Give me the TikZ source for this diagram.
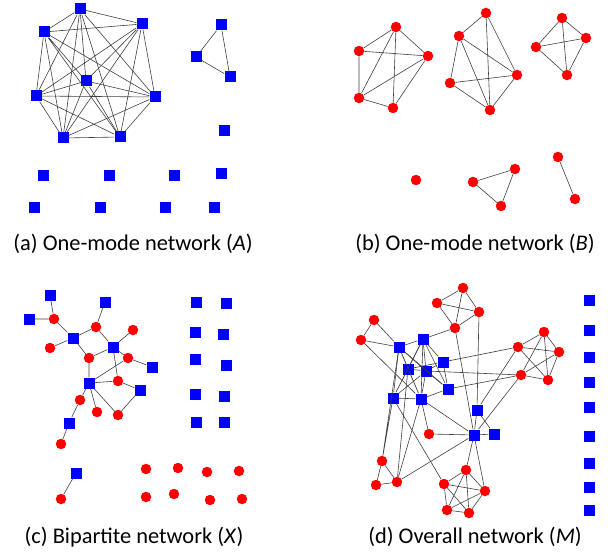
\documentclass[tikz,border=0pt]{standalone}
\usepackage{fontspec}
\setmainfont{Carlito}
\usetikzlibrary{positioning}

\begin{document}
\begin{tikzpicture}[x=1pt,y=-1pt,{sqnode/.style={rectangle,fill=blue,inner sep=0pt,minimum size=11pt}},{rdnode/.style={circle,fill=red,inner sep=0pt,minimum size=10.5pt}},{linest/.style={color=black!75,line width=0.6pt}},{capt/.style={anchor=base,font=\fontsize{22.4}{26}\selectfont}}]
		\useasboundingbox (0,0) rectangle (608,556);
		%%(a) one-mode network A
		\node at (80,9) [sqnode] (a1) {};
		\node at (142,24) [sqnode] (a2) {};
		\node at (44,32) [sqnode] (a3) {};
		\node at (86,81) [sqnode] (a4) {};
		\node at (36,96) [sqnode] (a5) {};
		\node at (155,97) [sqnode] (a6) {};
		\node at (63,138) [sqnode] (a7) {};
		\node at (120,137) [sqnode] (a8) {};
		\node at (221,25) [sqnode] (a9) {};
		\node at (196,57) [sqnode] (a10) {};
		\node at (230,77) [sqnode] (a11) {};
		\node at (224,131) [sqnode] (a12) {};
		\node at (43,176) [sqnode] (a13) {};
		\node at (109,176) [sqnode] (a14) {};
		\node at (174,176) [sqnode] (a15) {};
		\node at (221,174) [sqnode] (a16) {};
		\node at (34,208) [sqnode] (a17) {};
		\node at (100,208) [sqnode] (a18) {};
		\node at (165,208) [sqnode] (a19) {};
		\node at (214,208) [sqnode] (a20) {};
		\draw [linest] (a1) -- (a2) (a1) -- (a3) (a1) -- (a4) (a1) -- (a5) (a1) -- (a6) (a1) -- (a7) (a1) -- (a8);
		\draw [linest] (a2) -- (a3) (a2) -- (a4) (a2) -- (a5) (a2) -- (a6) (a2) -- (a7) (a2) -- (a8);
		\draw [linest] (a3) -- (a4) (a3) -- (a5) (a3) -- (a6) (a3) -- (a7) (a3) -- (a8);
		\draw [linest] (a4) -- (a5) (a4) -- (a6) (a4) -- (a7) (a4) -- (a8);
		\draw [linest] (a5) -- (a6) (a5) -- (a7) (a5) -- (a8) (a6) -- (a7) (a6) -- (a8) (a7) -- (a8);
		\draw [linest] (a9) -- (a10) -- (a11) -- (a9);
		\node at (133,251) [capt] (capa) {(a) One-mode network (\textit{A})};

		%%(b) one-mode network B
		\node at (396,27) [rdnode] (b1) {};
		\node at (359,51) [rdnode] (b2) {};
		\node at (428,56) [rdnode] (b3) {};
		\node at (359,98) [rdnode] (b4) {};
		\node at (393,108) [rdnode] (b5) {};
		\node at (486,13) [rdnode] (b6) {};
		\node at (459,36) [rdnode] (b7) {};
		\node at (450,83) [rdnode] (b8) {};
		\node at (517,75) [rdnode] (b9) {};
		\node at (490,110) [rdnode] (b10) {};
		\node at (562,18) [rdnode] (b11) {};
		\node at (536,47) [rdnode] (b12) {};
		\node at (586,38) [rdnode] (b13) {};
		\node at (567,75) [rdnode] (b14) {};
		\node at (416,180) [rdnode] (b15) {};
		\node at (473,182) [rdnode] (b16) {};
		\node at (515,169) [rdnode] (b17) {};
		\node at (501,206) [rdnode] (b18) {};
		\node at (558,157) [rdnode] (b19) {};
		\node at (575,199) [rdnode] (b20) {};
		\draw [linest] (b1) -- (b2) -- (b4) -- (b5) -- (b3) -- (b1) (b1) -- (b4) (b1) -- (b5) (b2) -- (b3) (b4) -- (b3);
		\draw [linest] (b6) -- (b7) -- (b8) -- (b10) -- (b9) -- (b6) (b6) -- (b10) (b7) -- (b9) (b7) -- (b10) (b8) -- (b9);
		\draw [linest] (b11) -- (b12) -- (b14) -- (b13) -- (b11) (b11) -- (b14) (b12) -- (b13);
		\draw [linest] (b16) -- (b17) -- (b18) -- (b16) (b19) -- (b20);
		\node at (475,251) [capt] (capb) {(b) One-mode network (\textit{B})};

		%%(c) bipartite network X
		\node at (50,295) [sqnode] (c1) {};
		\node at (29,319) [sqnode] (c2) {};
		\node at (105,302) [sqnode] (c3) {};
		\node at (73,338) [sqnode] (c4) {};
		\node at (113,347) [sqnode] (c5) {};
		\node at (152,367) [sqnode] (c6) {};
		\node at (89,383) [sqnode] (c7) {};
		\node at (140,390) [sqnode] (c8) {};
		\node at (69,423) [sqnode] (c9) {};
		\node at (76,473) [sqnode] (c10) {};
		\node at (54,319) [rdnode] (c11) {};
		\node at (50,348) [rdnode] (c12) {};
		\node at (96,327) [rdnode] (c13) {};
		\node at (133,330) [rdnode] (c14) {};
		\node at (89,358) [rdnode] (c15) {};
		\node at (128,358) [rdnode] (c16) {};
		\node at (118,381) [rdnode] (c17) {};
		\node at (80,400) [rdnode] (c18) {};
		\node at (97,412) [rdnode] (c19) {};
		\node at (118,415) [rdnode] (c20) {};
		\node at (61,444) [rdnode] (c21) {};
		\node at (61,499) [rdnode] (c22) {};
		%% isolated nodes
		\node at (196,302) [sqnode] (c23) {};
		\node at (226,303) [sqnode] (c24) {};
		\node at (195,332) [sqnode] (c25) {};
		\node at (223,334) [sqnode] (c26) {};
		\node at (195,359) [sqnode] (c27) {};
		\node at (226,365) [sqnode] (c28) {};
		\node at (195,394) [sqnode] (c29) {};
		\node at (224,396) [sqnode] (c30) {};
		\node at (196,422) [sqnode] (c31) {};
		\node at (224,422) [sqnode] (c32) {};
		\node at (146,469) [rdnode] (c33) {};
		\node at (178,468) [rdnode] (c34) {};
		\node at (207,472) [rdnode] (c35) {};
		\node at (239,471) [rdnode] (c36) {};
		\node at (146,497) [rdnode] (c37) {};
		\node at (174,494) [rdnode] (c38) {};
		\node at (210,500) [rdnode] (c39) {};
		\node at (242,499) [rdnode] (c40) {};
		\draw [linest] (c1) -- (c11) -- (c2) (c11) -- (c4) -- (c12) (c4) -- (c13) -- (c3) (c13) -- (c5) -- (c14);
		\draw [linest] (c4) -- (c15) -- (c5) -- (c16) -- (c6) (c5) -- (c17) -- (c8) -- (c20) -- (c7) -- (c15);
		\draw [linest] (c7) -- (c16) (c7) -- (c17) (c7) -- (c19) (c7) -- (c18) -- (c9) -- (c21) (c10) -- (c22);
		\node at (134,543) [capt] (capc) {(c) Bipartite network (\textit{X})};

		%%(d) overall network M
		\node at (463,288) [rdnode] (d1) {};
		\node at (437,303) [rdnode] (d2) {};
		\node at (479,312) [rdnode] (d3) {};
		\node at (455,328) [rdnode] (d4) {};
		\node at (374,320) [rdnode] (d5) {};
		\node at (361,340) [rdnode] (d6) {};
		\node at (518,347) [rdnode] (d7) {};
		\node at (544,332) [rdnode] (d8) {};
		\node at (559,352) [rdnode] (d9) {};
		\node at (521,375) [rdnode] (d10) {};
		\node at (548,380) [rdnode] (d11) {};
		\node at (429,434) [rdnode] (d12) {};
		\node at (382,461) [rdnode] (d13) {};
		\node at (376,485) [rdnode] (d14) {};
		\node at (397,482) [rdnode] (d15) {};
		\node at (466,470) [rdnode] (d16) {};
		\node at (444,484) [rdnode] (d17) {};
		\node at (485,491) [rdnode] (d18) {};
		\node at (447,510) [rdnode] (d19) {};
		\node at (469,513) [rdnode] (d20) {};
		\node at (399,347) [sqnode] (d21) {};
		\node at (423,339) [sqnode] (d22) {};
		\node at (443,362) [sqnode] (d23) {};
		\node at (408,369) [sqnode] (d24) {};
		\node at (426,371) [sqnode] (d25) {};
		\node at (448,389) [sqnode] (d26) {};
		\node at (393,398) [sqnode] (d27) {};
		\node at (421,399) [sqnode] (d28) {};
		\node at (477,410) [sqnode] (d29) {};
		\node at (474,435) [sqnode] (d30) {};
		\node at (494,434) [sqnode] (d31) {};
		%% isolated column
		\node at (589,300) [sqnode] (d32) {};
		\node at (589,330) [sqnode] (d33) {};
		\node at (589,357) [sqnode] (d34) {};
		\node at (589,382) [sqnode] (d35) {};
		\node at (589,407) [sqnode] (d36) {};
		\node at (589,436) [sqnode] (d37) {};
		\node at (589,463) [sqnode] (d38) {};
		\node at (589,487) [sqnode] (d39) {};
		\node at (589,510) [sqnode] (d40) {};
		%% clusters
		\draw [linest] (d1) -- (d2) -- (d4) -- (d3) -- (d1) -- (d4) (d2) -- (d3) (d5) -- (d6) -- (d21) -- (d5);
		\draw [linest] (d7) -- (d8) -- (d9) -- (d11) -- (d10) -- (d8) -- (d11) -- (d7) -- (d9) -- (d10);
		\draw [linest] (d13) -- (d14) -- (d15) -- (d13);
		\draw [linest] (d16) -- (d17) -- (d19) -- (d20) -- (d18) -- (d16) -- (d20) -- (d17) -- (d18) -- (d19) -- (d16);
		%% blue core
		\draw [linest] (d21) -- (d22) -- (d23) -- (d25) -- (d24) -- (d21) -- (d25) -- (d22) -- (d24) -- (d28) -- (d27) -- (d21) -- (d28) -- (d25) -- (d26) -- (d23) -- (d24);
		\draw [linest] (d22) -- (d28) -- (d26) -- (d22) -- (d27) -- (d25) (d24) -- (d27) (d21) -- (d26);
		%% bridges
		\draw [linest] (d3) -- (d29) (d4) -- (d22) (d4) -- (d30) (d6) -- (d28) (d7) -- (d23) (d7) -- (d29) (d10) -- (d25) (d10) -- (d26) (d10) -- (d30);
		\draw [linest] (d29) -- (d30) -- (d31) -- (d29) (d12) -- (d28) (d12) -- (d30) (d28) -- (d30) (d30) -- (d15) (d30) -- (d16) (d30) -- (d18);
		\draw [linest] (d27) -- (d13) (d27) -- (d17) (d28) -- (d15) (d24) -- (d15) (d21) -- (d13);
		\node at (475,543) [capt] (capd) {(d) Overall network (\textit{M})};
	\end{tikzpicture}
\end{document}
